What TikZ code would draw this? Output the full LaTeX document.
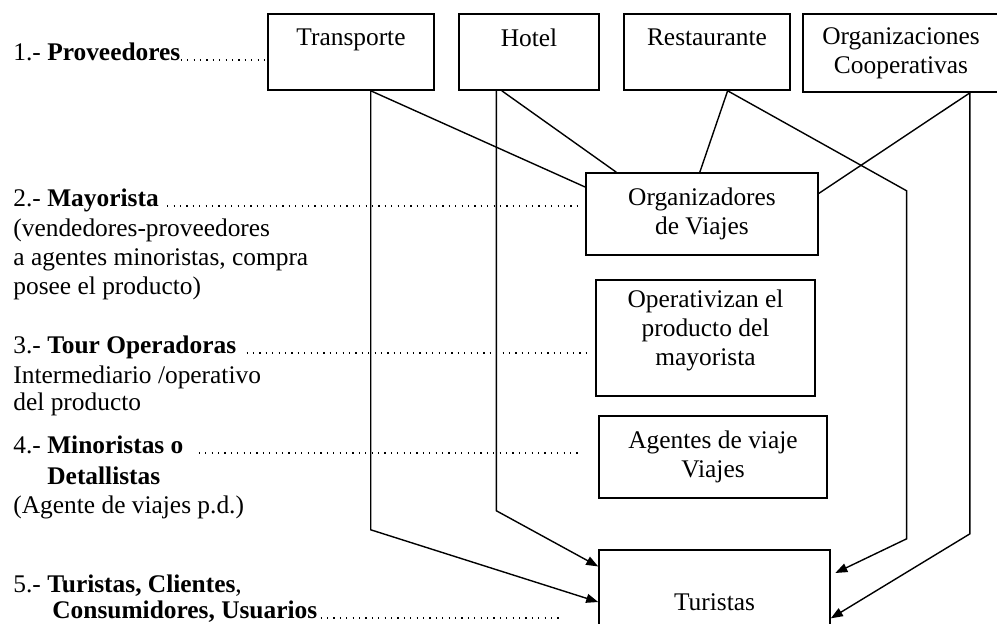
\documentclass[tikz,border=0pt]{standalone}
\usepackage{fontspec}
\setmainfont{Liberation Serif}
\usetikzlibrary{arrows.meta}

\begin{document}
\begin{tikzpicture}[x=0.5pt, y=-0.5pt, font=\fontsize{12.7}{14.5}\selectfont]
                \useasboundingbox (0,0) rectangle (997,623);
                \clip (0,0) rectangle (997,623);

                \begin{scope}[every node/.style={draw, line width=0.8pt, align=center, inner sep=0}]
                        \node [minimum width=83pt, minimum height=38pt] (trans) at (351,52) {Transporte\\~};
                        \node [minimum width=70pt, minimum height=38pt] (hotel) at (529,52) {Hotel\\~};
                        \node [minimum width=83pt, minimum height=38pt] (rest) at (707,52) {Restaurante\\~};
                        \node [minimum width=98pt, minimum height=39pt] (coop) at (901,53) {Organizaciones\\Cooperativas};
                        \node [minimum width=116pt, minimum height=41pt] (orgv) at (702,214) {Organizadores\\de Viajes};
                        \node [minimum width=109.5pt, minimum height=58pt] (oper) at (705.5,338) {Operativizan el\\producto del\\mayorista\\[-4pt]~};
                        \node [minimum width=114pt, minimum height=41pt] (agen) at (713,457) {Agentes de viaje\\Viajes};
                        \node [minimum width=115.5pt, minimum height=52pt] (tur) at (714.5,602) {Turistas};
                \end{scope}

                \begin{scope}[every node/.style={inner sep=0, anchor=base west}]
                        \node (prov) at (13,60) {1.- \textbf{Proveedores}};
                        \node (may) at (13,206) {2.- \textbf{Mayorista}};
                        \node [anchor=north west, align=left] (mayd) at (13,218) {(vendedores-proveedores\\a agentes minoristas, compra\\posee el producto)};
                        \node (tour) at (13,353) {3.- \textbf{Tour Operadoras}};
                        \node [anchor=north west, align=left] (tourd) at (13,365) {Intermediario /operativo\\[-1pt]del producto};
                        \node (mino) at (13,453) {4.- \textbf{Minoristas o}};
                        \node [anchor=north west, align=left] (minod) at (13,466) {\hspace*{17pt}\textbf{Detallistas}\\(Agente de viajes p.d.)};
                        \node (turi) at (13,592) {5.- \textbf{Turistas, Clientes},};
                        \node (cons) at (52,618) {\textbf{Consumidores, Usuarios}};
                \end{scope}

                \begin{scope}[line width=0.6pt, dash pattern=on 0.6pt off 2.6pt]
                        \draw (prov.base east) -- (prov.base east -| trans.west);
                        \draw [shorten <=4pt, shorten >=4pt] (may.base east) -- (may.base east -| orgv.west);
                        \draw [shorten <=5pt, shorten >=4.5pt] (tour.base east) -- (tour.base east -| oper.west);
                        \draw [shorten <=7.5pt, shorten >=8.5pt] (mino.base east) -- (mino.base east -| agen.west);
                        \draw [shorten <=1.5pt, shorten >=18pt] (cons.base east) -- (cons.base east -| tur.west);
                \end{scope}

                \begin{scope}[line width=0.7pt, >={Triangle[length=6pt, width=4.5pt]}]
                        \draw (trans.-63) -- (orgv.167);
                        \draw [->] (trans.-63) -- ++(0,439) -- (tur.west);
                        \draw (hotel.-125) -- (orgv.154);
                        \draw [->] (hotel.-130) -- ++(0,420) -- (tur.163);
                        \draw (rest.-62) -- (orgv.93);
                        \draw [->, shorten >=2.5pt] (rest.-62) -- ++(179,100) -- ++(0,348) -- (tur.13);
                        \draw (coop.-30) -- (orgv.10);
                        \draw [->] (coop.-30) -- ++(0,441) -- (tur.-8);
                \end{scope}
\end{tikzpicture}
\end{document}
